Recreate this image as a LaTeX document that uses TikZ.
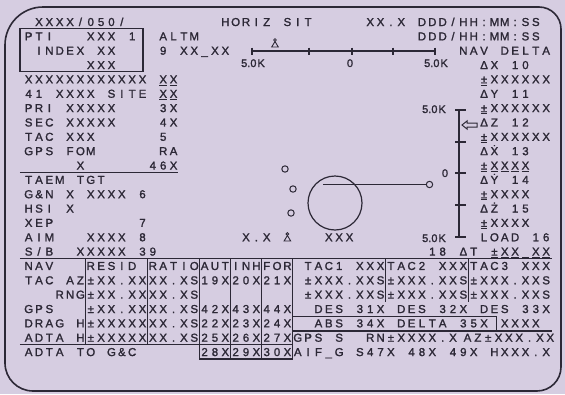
\documentclass[tikz,border=0pt]{standalone}
\usepackage{fontspec}
\setmainfont{Liberation Sans}
\newfontfamily\crtfont[FakeBold=1.6]{Liberation Sans}
\usetikzlibrary{positioning}
\definecolor{crtbg}{RGB}{214,205,225}
\definecolor{crtink}{RGB}{44,40,54}
\newlength\cellw
\setlength\cellw{10.35pt}
\def\crt#1{\crtA#1\relax}
\def\crtA#1{\ifx#1\relax\else\makebox[\cellw]{#1}\expandafter\crtA\fi}
\newcommand\UX{\underline{X}}
\newcommand\PM{\underline{±}}
\newcommand\Xd{\.X}
\newcommand\Yd{\.Y}
\newcommand\Zd{\.Z}
\begin{document}
\begin{tikzpicture}[x=1pt,y=-1pt]
\tikzstyle{cell}=[anchor=base west,inner sep=0pt,outer sep=0pt,text=crtink,font=\crtfont\fontsize{11.5pt}{12pt}\selectfont]
\tikzstyle{lbl}=[anchor=base,inner sep=0pt,outer sep=0pt,text=crtink,font=\crtfont\fontsize{11pt}{12pt}\selectfont]
\tikzstyle{tline}=[draw=crtink,line width=1.2pt]
\tikzstyle{scl}=[draw=crtink,line width=1.1pt]
\tikzstyle{ring}=[circle,draw=crtink,line width=1pt,inner sep=0pt,minimum size=6.4pt]
\tikzset{orbiter/.pic={\draw[crtink,line width=0.9pt] (-3.3,0) -- (0,-5.5) -- (3.3,0) -- cycle;
  \draw[crtink,line width=0.8pt] (0,-7) circle (1.4pt);}}
\useasboundingbox (0,0) rectangle (565,394);
\fill[crtbg] (0,0) rectangle (565,394);
\draw[draw=crtink,line width=1.6pt] (5,200) [rounded corners=38pt] |- (300,7) [rounded corners=22pt] -| (561,200)
  [rounded corners=24pt] |- (300,391) [rounded corners=28pt] -| (5,200) -- cycle;

\begin{scope}[shift={(23.5pt,-26pt)},x=10.35pt,y=-14.35pt]
\node [cell] (hdr) at (1,0) {\crt{XXXX/050/}};
\node [cell] (horiz) at (19,0) {\crt{HORIZ~SIT}};
\node [cell] (ver) at (33,0) {\crt{XX.X}};
\node [cell] (gmt) at (38,0) {\crt{DDD/HH:MM:SS}};
\node [cell] (pti) at (0,1) {\crt{PTI}};
\node [cell] (ptinum) at (6,1) {\crt{XXX~1}};
\node [cell] (altm) at (13,1) {\crt{ALTM}};
\node [cell] (met) at (38,1) {\crt{DDD/HH:MM:SS}};
\node [cell] (index) at (1,2) {\crt{INDEX~XX}};
\node [cell] (altset) at (13,2) {\crt{9~XX\_XX}};
\node [cell] (navd) at (42,2) {\crt{NAV~DELTA}};
\node [cell] (ptival) at (6,3) {\crt{XXX}};
\node [cell] (dx) at (44,3) {\crt{ΔX~10}};
\node [cell] (site) at (0,4) {\crt{XXXXXXXXXXXX}};
\node [cell] (sitea) at (13,4) {\crt{\UX\UX}};
\node [cell] (dxv) at (44,4) {\crt{\PM XXXXXX}};
\node [cell] (siteb) at (0,5) {\crt{41~XXXX~SITE}};
\node [cell] (sitec) at (13,5) {\crt{\UX\UX}};
\node [cell] (dy) at (44,5) {\crt{ΔY~11}};
\node [cell] (pri) at (0,6) {\crt{PRI~XXXXX}};
\node [cell] (prin) at (13,6) {\crt{3X}};
\node [cell] (dyv) at (44,6) {\crt{\PM XXXXXX}};
\node [cell] (sec) at (0,7) {\crt{SEC~XXXXX}};
\node [cell] (secn) at (13,7) {\crt{4X}};
\node [cell] (dz) at (44,7) {\crt{ΔZ~12}};
\node [cell] (tac) at (0,8) {\crt{TAC~XXX}};
\node [cell] (tacn) at (13,8) {\crt{5}};
\node [cell] (dzv) at (44,8) {\crt{\PM XXXXXX}};
\node [cell] (fom) at (0,9) {\crt{GPS~FOM}};
\node [cell] (fomn) at (13,9) {\crt{RA}};
\node [cell] (dxd) at (44,9) {\crt{Δ\Xd~13}};
\node [cell] (fomx) at (5,10) {\crt{X}};
\node [cell] (fomy) at (12,10) {\crt{46X}};
\node [cell] (dxdv) at (44,10) {\crt{\PM\UX\UX\UX\UX}};
\node [cell] (taem) at (0,11) {\crt{TAEM~TGT}};
\node [cell] (dyd) at (44,11) {\crt{Δ\Yd~14}};
\node [cell] (gnc) at (0,12) {\crt{G\&N~X~XXXX~6}};
\node [cell] (dydv) at (44,12) {\crt{\PM XXXX}};
\node [cell] (hsi) at (0,13) {\crt{HSI~X}};
\node [cell] (dzd) at (44,13) {\crt{Δ\Zd~15}};
\node [cell] (xep) at (0,14) {\crt{XEP}};
\node [cell] (xepn) at (11,14) {\crt{7}};
\node [cell] (dzdv) at (44,14) {\crt{\PM XXXX}};
\node [cell] (aim) at (0,15) {\crt{AIM~~~XXXX~8}};
\node [cell] (rng) at (21,15) {\crt{X.X}};
\node [cell] (hac) at (29,15) {\crt{XXX}};
\node [cell] (load) at (44,15) {\crt{LOAD~16}};
\node [cell] (sb) at (0,16) {\crt{S/B~~XXXXX~39}};
\node [cell] (dt) at (39,16) {\crt{18~ΔT~\PM\UX\UX\_\UX\UX}};

\node [cell] (nav) at (0,17) {\crt{NAV}};
\node [cell] (resid) at (6,17) {\crt{RESID}};
\node [cell] (ratio) at (12,17) {\crt{RATIO}};
\node [cell] (aut) at (17,17) {\crt{AUT}};
\node [cell] (inh) at (20,17) {\crt{INH}};
\node [cell] (for) at (23,17) {\crt{FOR}};
\node [cell] (tacA) at (27,17) {\crt{TAC1~XXX}};
\node [cell] (tacB) at (35,17) {\crt{TAC2~XXX}};
\node [cell] (tacC) at (43,17) {\crt{TAC3~XXX}};
\node [cell] (az) at (0,18) {\crt{TAC~AZ}};
\node [cell] (azr) at (6,18) {\crt{±XX.XX}};
\node [cell] (azq) at (12,18) {\crt{XX.XS}};
\node [cell] (aza) at (17,18) {\crt{19X}};
\node [cell] (azi) at (20,18) {\crt{20X}};
\node [cell] (azf) at (23,18) {\crt{21X}};
\node [cell] (tacAaz) at (27,18) {\crt{±XXX.XXS}};
\node [cell] (tacBaz) at (35,18) {\crt{±XXX.XXS}};
\node [cell] (tacCaz) at (43,18) {\crt{±XXX.XXS}};
\node [cell] (rn) at (3,19) {\crt{RNG}};
\node [cell] (rnr) at (6,19) {\crt{±XX.XX}};
\node [cell] (rnq) at (12,19) {\crt{XX.XS}};
\node [cell] (tacArn) at (27,19) {\crt{±XXX.XXS}};
\node [cell] (tacBrn) at (35,19) {\crt{±XXX.XXS}};
\node [cell] (tacCrn) at (43,19) {\crt{±XXX.XXS}};
\node [cell] (gps) at (0,20) {\crt{GPS}};
\node [cell] (gpsr) at (6,20) {\crt{±XX.XX}};
\node [cell] (gpsq) at (12,20) {\crt{XX.XS}};
\node [cell] (gpsa) at (17,20) {\crt{42X}};
\node [cell] (gpsi) at (20,20) {\crt{43X}};
\node [cell] (gpsf) at (23,20) {\crt{44X}};
\node [cell] (des) at (28,20) {\crt{DES~31X~DES~32X~DES~33X}};
\node [cell] (drag) at (0,21) {\crt{DRAG~H}};
\node [cell] (dragr) at (6,21) {\crt{±XXXXX}};
\node [cell] (dragq) at (12,21) {\crt{XX.XS}};
\node [cell] (draga) at (17,21) {\crt{22X}};
\node [cell] (dragi) at (20,21) {\crt{23X}};
\node [cell] (dragf) at (23,21) {\crt{24X}};
\node [cell] (abs) at (28,21) {\crt{ABS~34X~DELTA~35X}};
\node [cell] (absx) at (46,21) {\crt{XXXX}};
\node [cell] (adta) at (0,22) {\crt{ADTA~H}};
\node [cell] (adtar) at (6,22) {\crt{±XXXXX}};
\node [cell] (adtaq) at (12,22) {\crt{XX.XS}};
\node [cell] (adtaa) at (17,22) {\crt{25X}};
\node [cell] (adtai) at (20,22) {\crt{26X}};
\node [cell] (adtaf) at (23,22) {\crt{27X}};
\node [cell] (gpss) at (26,22) {\crt{GPS~S}};
\node [cell] (gpsrn) at (33,22) {\crt{RN±XXXX.X}};
\node [cell] (gpsaz) at (42.4,22) {\crt{AZ±XXX.XX}};
\node [cell] (togc) at (0,23) {\crt{ADTA~TO~G\&C}};
\node [cell] (togca) at (17,23) {\crt{28X}};
\node [cell] (togci) at (20,23) {\crt{29X}};
\node [cell] (togcf) at (23,23) {\crt{30X}};
\node [cell] (aif) at (26,23) {\crt{AIF\_G~S47X~48X~49X~HXXX.X}};

\draw [tline] (-0.34,0.15) rectangle (11.55,3.15);
\draw [tline] (-0.34,10.2) -- (14.9,10.2);
\draw [tline] (-0.34,16.2) -- (51.05,16.2);
\foreach \c in {6,12} \draw [tline] (\c,16.2) -- (\c,22.2);
\foreach \c in {17,20,23,26} \draw [tline] (\c,16.2) -- (\c,23.2);
\foreach \c in {35,43} \draw [tline] (\c,16.2) -- (\c,19.25);
\draw [tline] (-0.34,22.2) -- (26,22.2);
\draw [tline] (17,23.2) -- (26,23.2);
\draw [tline] (26,20.25) -| (45.7,21.25);
\draw [tline] (26,21.25) -- (51.05,21.25);
\end{scope}

\draw [scl] (252,51) -- (435,51);
\foreach \x in {252,309,352,393,435} \draw [scl] (\x,47.5) -- (\x,54.5);
\node [lbl] (hleft) at (253,67) {5.0\kern1ptK};
\node [lbl] (hzero) at (350,67) {0};
\node [lbl] (hright) at (436,67) {5.0\kern1ptK};
\pic at (275,47) {orbiter};
\pic at (287.4,241) {orbiter};

\draw [scl] (459,110) -- (459,237);
\foreach \y in {110,142,173,205,237} \draw [scl] (455,\y) -- (466,\y);
\node [lbl] (vtop) at (434,113) {5.0\kern1ptK};
\node [lbl] (vzero) at (445,177) {0};
\node [lbl] (vbot) at (434,242) {5.0\kern1ptK};
\draw [scl,line width=1pt] (462,125) -- (467,121) -- (467,123) -- (477,123) -- (477,127) -- (467,127) -- (467,129) -- cycle;

\node [ring] (tgtA) at (285,169) {};
\node [ring] (tgtB) at (293,189) {};
\node [ring] (tgtC) at (291,213) {};
\node [ring,line width=1.2pt,minimum size=54pt] (hac) at (335,203) {};
\node [ring] (pred) at (429.5,184.5) {};
\coordinate (predtail) at (323,184.5);
\draw [scl] (predtail) -- (pred.west);
\end{tikzpicture}
\end{document}
